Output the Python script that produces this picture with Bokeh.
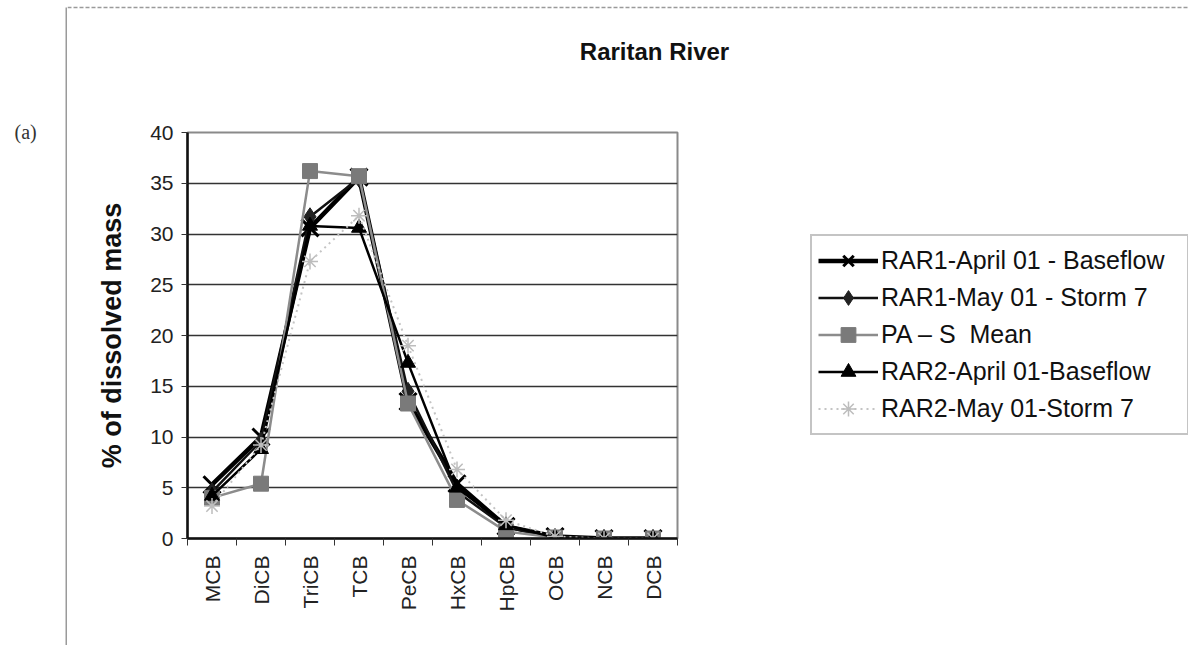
import math
from bokeh.plotting import figure
from bokeh.layouts import row, column
from bokeh.models import Legend, LegendItem, FixedTicker, Range1d
from bokeh.core.properties import value
from bokeh.embed import file_html
from bokeh.resources import INLINE

categories = ["MCB", "DiCB", "TriCB", "TCB", "PeCB", "HxCB", "HpCB", "OCB", "NCB", "DCB"]
rar1_april = [5.3, 10.0, 30.6, 35.6, 13.5, 5.4, 1.2, 0.2, 0.0, 0.0]
rar1_may = [4.6, 9.6, 31.7, 35.5, 14.5, 4.6, 1.1, 0.1, 0.0, 0.0]
pas_mean = [4.0, 5.4, 36.2, 35.7, 13.3, 3.8, 0.7, 0.1, 0.0, 0.0]
rar2_april = [4.2, 8.8, 30.8, 30.6, 17.3, 5.0, 1.3, 0.1, 0.0, 0.0]
rar2_may = [3.2, 9.2, 27.3, 31.8, 19.0, 6.8, 1.8, 0.2, 0.0, 0.0]
y_ticks = [0, 5, 10, 15, 20, 25, 30, 35, 40]
title_text = "Raritan River"
panel_tag = "(a)"

FONT = "Liberation Sans"
TOTAL_W, TOTAL_H = 1188, 645
LEFT_W = 67          # column holding "(a)" and the chart's left border
TOP_H = 120          # strip holding the title and the chart's top border
MAIN_W = 673
LEG_W = TOTAL_W - LEFT_W - MAIN_W
MAIN_H = TOTAL_H - TOP_H
# frame edges in page pixels
FL, FR, FT, FB = 187, 677, 132, 538
x_pos = [i + 0.5 for i in range(len(categories))]


def blank(w, h, xr, yr):
    f = figure(width=w, height=h, output_backend="svg", toolbar_location=None,
               x_axis_type=None, y_axis_type=None, x_range=xr, y_range=yr,
               min_border=0, title=None)
    f.outline_line_color = None
    f.background_fill_color = "white"
    f.border_fill_color = "white"
    return f


# left column: "(a)" and the left border of the chart area
left = blank(LEFT_W, TOTAL_H, Range1d(0, LEFT_W), Range1d(TOTAL_H, 0))
left.text(x=[14], y=[131], text=[panel_tag], text_font=value("Liberation Serif"),
          text_font_size="20px", text_baseline="alphabetic", text_color="#333333")
left.segment(x0=[LEFT_W - 1], y0=[7], x1=[LEFT_W - 1], y1=[TOTAL_H],
             line_color="#9a9a9a", line_width=2)

# top strip: title and dashed top border of the chart area
TW = TOTAL_W - LEFT_W
top = blank(TW, TOP_H, Range1d(0, TW), Range1d(TOP_H, 0))
top.segment(x0=[0], y0=[7], x1=[TW], y1=[7],
            line_color="#9a9a9a", line_width=1.5, line_dash="4 2")
top.text(x=[654 - LEFT_W], y=[51], text=[title_text], text_font=value(FONT),
         text_font_style="bold", text_font_size="24px", text_align="center",
         text_baseline="alphabetic", text_color="#111111")

# main chart
p = figure(width=MAIN_W, height=MAIN_H, output_backend="svg", toolbar_location=None,
           x_range=(0, len(categories)), y_range=(0, 40), title=None,
           min_border_left=FL - LEFT_W, min_border_right=LEFT_W + MAIN_W - FR,
           min_border_top=FT - TOP_H, min_border_bottom=TOTAL_H - FB)
p.background_fill_color = "white"
p.border_fill_color = "white"
p.outline_line_color = "#8a8a8a"
p.outline_line_width = 2

p.xgrid.visible = False
p.ygrid.ticker = FixedTicker(ticks=y_ticks[1:-1])
p.ygrid.grid_line_color = "#333333"
p.ygrid.grid_line_width = 1.5

yax = p.yaxis[0]
yax.ticker = FixedTicker(ticks=y_ticks, minor_ticks=[])
yax.major_tick_in = 0
yax.major_tick_out = 6
yax.major_tick_line_color = "#333333"
yax.axis_line_color = "#111111"
yax.axis_line_width = 2.5
yax.major_label_text_font = FONT
yax.major_label_text_font_size = "21px"
yax.major_label_text_color = "#222222"
yax.major_label_standoff = 8
yax.axis_label = "% of dissolved mass"
yax.axis_label_text_font = FONT
yax.axis_label_text_font_style = "bold"
yax.axis_label_text_font_size = "27px"
yax.axis_label_text_color = "#111111"
yax.axis_label_standoff = 20

xax = p.xaxis[0]
xax.ticker = FixedTicker(ticks=x_pos, minor_ticks=list(range(len(categories) + 1)))
xax.major_label_overrides = {x: c for x, c in zip(x_pos, categories)}
xax.major_tick_in = 0
xax.major_tick_out = 0
xax.minor_tick_in = 0
xax.minor_tick_out = 7
xax.minor_tick_line_color = "#333333"
xax.axis_line_color = "#111111"
xax.axis_line_width = 2.5
xax.major_label_orientation = math.pi / 2
xax.major_label_text_font = FONT
xax.major_label_text_font_size = "21px"
xax.major_label_text_color = "#222222"
xax.major_label_standoff = 10

series = [
    ("RAR1-April 01 - Baseflow", rar1_april, "#000000", 4.5, "solid", "x", 24, "#000000", 3),
    ("RAR1-May 01 - Storm 7", rar1_may, "#111111", 2.5, "solid", "diamond", 18, "#222222", 1),
    ("PA \u2013 S  Mean", pas_mean, "#8c8c8c", 2.5, "solid", "square", 15, "#7a7a7a", 1),
    ("RAR2-April 01-Baseflow", rar2_april, "#000000", 2.5, "solid", "triangle", 15, "#000000", 1),
    ("RAR2-May 01-Storm 7", rar2_may, "#c4c4c4", 2, "dotted", "asterisk", 16, "#bdbdbd", 1.5),
]

# legend panel: separate figure to the right (its frame is aligned with the
# chart's frame by the row layout); legend glyphs use stand-in renderers that
# sit outside that panel's visible range
leg = blank(LEG_W, MAIN_H, Range1d(0, 1), Range1d(0, 1))
items = []
for name, vals, col, lw, dash, marker, size, mcol, mlw in series:
    p.line(x_pos, vals, line_color=col, line_width=lw, line_dash=dash)
    p.scatter(x_pos, vals, marker=marker, size=size, fill_color=mcol,
              line_color=mcol, line_width=mlw)
    lr = leg.line([-5, -4], [-5, -5], line_color=col, line_width=lw, line_dash=dash)
    sr = leg.scatter([-5], [-5], marker=marker, size=size, fill_color=mcol,
                     line_color=mcol, line_width=mlw)
    items.append(LegendItem(label=name, renderers=[lr, sr]))

legend = Legend(items=items, location=(810 - (LEFT_W + MAIN_W), FB - 435))
legend.label_text_font = FONT
legend.label_text_font_size = "25px"
legend.label_text_color = "#111111"
legend.glyph_width = 60
legend.glyph_height = 37
legend.label_height = 37
legend.label_width = 300
legend.spacing = 0
legend.padding = 6
legend.margin = 0
legend.label_standoff = 3
legend.border_line_color = "#8a8a8a"
legend.border_line_width = 2
legend.background_fill_alpha = 1
leg.add_layout(legend)

layout = row(left, column(top, row(p, leg, spacing=0), spacing=0), spacing=0)

out = file_html(layout, INLINE)
open("out.html", "w").write(out)
